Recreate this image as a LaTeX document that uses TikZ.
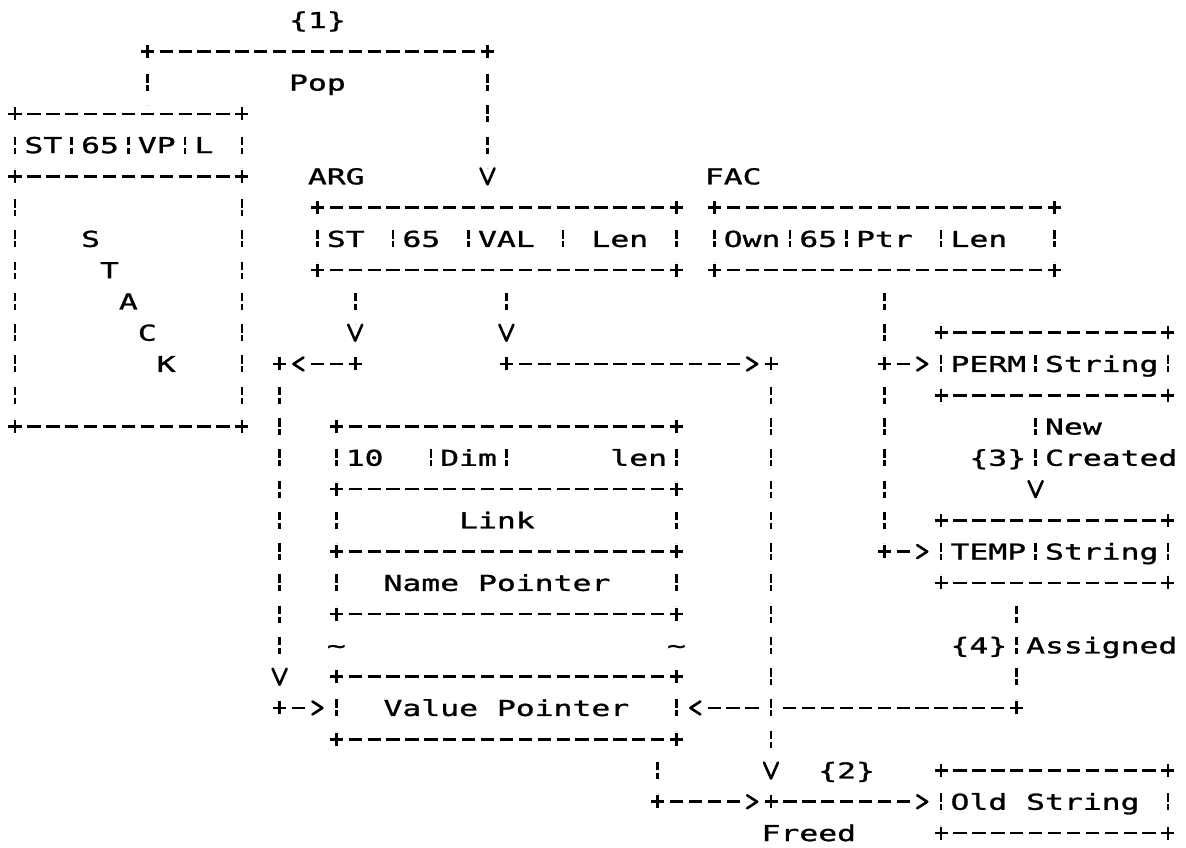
\documentclass[tikz,border=0pt]{standalone}
\usepackage{fontspec}
\newfontfamily\pf{DejaVu Sans Mono}[FakeStretch=1.4334, FakeBold=1.2]
\usetikzlibrary{fit}
\tikzset{
  ink/.style={line width=2.6pt, black},
  hrun/.style={ink, shorten <=6.75pt, shorten >=6.75pt, dash pattern=on 13.3pt off 5.6pt, dash phase=13.3pt},
  vrun/.style={ink, shorten <=8.5pt, shorten >=8.5pt, dash pattern=on 8.5pt off 2.5pt on 6pt off 14.27pt, dash phase=17pt},
  glyph/.style={ink, line cap=round, line join=round},
  txt/.style={font=\pf\fontsize{21.9pt}{22pt}\selectfont, inner sep=0pt, outer sep=0pt, anchor=base west, xshift=-9.45pt, yshift=-8pt},
  region/.style={inner sep=0pt, outer sep=0pt, draw=none},
  pics/plus/.style={code={\draw[ink] (-6.5pt,0)--(6.5pt,0) (0,-6.5pt)--(0,6.5pt);}},
  pics/vtip/.style={code={\draw[glyph] (-7pt,8pt)--(0,-8pt)--(7pt,8pt);}},
  pics/rtip/.style={code={\draw[glyph] (-5pt,6.5pt)--(5pt,0)--(-5pt,-6.5pt);}},
  pics/ltip/.style={code={\draw[glyph] (5pt,6.5pt)--(-5pt,0)--(5pt,-6.5pt);}},
  pics/bar/.style={code={\draw[ink] (0,8.5pt)--(0,0) (0,-2.5pt)--(0,-8.5pt);}},
}
\begin{document}
\begin{tikzpicture}[x=18.9pt, y=-31.27pt]
\useasboundingbox (-0.79365,-0.63959) rectangle (61.9577,26.4471);

% ---------- box regions ----------
\node[region, fit={(0,3)(12,13)}] (stack) {};
\node[region, fit={(16,6)(35,8)}] (arg) {};
\node[region, fit={(37,6)(55,8)}] (fac) {};
\node[region, fit={(49,10)(61,12)}] (perm) {};
\node[region, fit={(49,16)(61,18)}] (temp) {};
\node[region, fit={(49,24)(61,26)}] (old) {};
\node[region, fit={(17,13)(35,23)}] (desc) {};

% ---------- stack box ----------
\foreach \r in {3,5,13} \draw[hrun] (0,\r) -- (12,\r);
\foreach \c in {0,12} {\draw[vrun] (\c,3) -- (\c,5); \draw[vrun] (\c,5) -- (\c,13);}
\foreach \c in {3,6,9} \pic at (\c,4) {bar};

% ---------- ARG / FAC ----------
\foreach \a/\b in {16/35,37/55} {
  \draw[hrun] (\a,6) -- (\b,6); \draw[hrun] (\a,8) -- (\b,8);
  \draw[vrun] (\a,6) -- (\a,8); \draw[vrun] (\b,6) -- (\b,8);}
\foreach \c in {20,24,29,41,44,49} \pic at (\c,7) {bar};

% ---------- PERM / TEMP / Old ----------
\foreach \r in {10,16,24} {
  \draw[hrun] (49,\r) -- (61,\r); \draw[hrun] (49,\r+2) -- (61,\r+2);
  \draw[vrun] (49,\r) -- (49,\r+2); \draw[vrun] (61,\r) -- (61,\r+2);}
\pic at (54,11) {bar};
\pic at (54,17) {bar};

% ---------- descriptor block ----------
\foreach \r in {13,15,17,19,21,23} \draw[hrun] (17,\r) -- (35,\r);
\foreach \c in {17,35} \foreach \r in {13,15,17,21} \draw[vrun] (\c,\r) -- (\c,\r+2);
\pic at (22,14) {bar};
\pic at (26,14) {bar};

% ---------- corner / junction marks ----------
\foreach \c/\r in {7/1,25/1,0/3,12/3,0/5,12/5,16/6,35/6,37/6,55/6,16/8,35/8,37/8,55/8,
  49/10,61/10,14/11,18/11,26/11,40/11,46/11,49/12,61/12,0/13,12/13,17/13,35/13,
  17/15,35/15,49/16,61/16,17/17,35/17,46/17,49/18,61/18,17/19,35/19,17/21,35/21,
  14/22,53/22,17/23,35/23,49/24,61/24,34/25,40/25,49/26,61/26}
  \pic at (\c,\r) {plus};

% ---------- connectors ----------
% {1} Pop : stack -> ARG
\coordinate (popL) at (7,1);
\coordinate (popR) at (25,1);
\coordinate (popV) at (25,5);
\draw[vrun] (popL) -- (stack.north -| popL);
\draw[hrun] (popL) -- (popR);
\draw[vrun] (popR) -- (popV);
\pic at (popV) {vtip};

% ARG.ST -> Value Pointer
\coordinate (sA) at (18,10);
\coordinate (sB) at (18,11);
\coordinate (sC) at (15,11);
\coordinate (sD) at (14,11);
\coordinate (sE) at (14,21);
\coordinate (sF) at (14,22);
\coordinate (sG) at (16,22);
\draw[vrun] (arg.south -| sA) -- (sA);
\pic at (sA) {vtip};
\draw[hrun] (sB) -- (sC);
\pic at (sC) {ltip};
\draw[vrun] (sD) -- (sE);
\pic at (sE) {vtip};
\draw[hrun] (sF) -- (sG);
\pic at (sG) {rtip};

% ARG.VAL -> Old String
\coordinate (vA) at (26,10);
\coordinate (vB) at (26,11);
\coordinate (vC) at (39,11);
\coordinate (vD) at (40,11);
\coordinate (vE) at (40,24);
\coordinate (vF) at (40,25);
\coordinate (vG) at (48,25);
\draw[vrun] (arg.south -| vA) -- (vA);
\pic at (vA) {vtip};
\draw[hrun] (vB) -- (vC);
\pic at (vC) {rtip};
\draw[vrun] (vD) -- (vE);
\pic at (vE) {vtip};
\draw[hrun] (vF) -- (vG);
\pic at (vG) {rtip};

% Value Pointer -> Freed
\coordinate (dA) at (34,25);
\coordinate (dB) at (39,25);
\draw[vrun] (desc.south -| dA) -- (dA);
\draw[hrun] (dA) -- (dB);
\pic at (dB) {rtip};

% FAC.Ptr -> PERM, TEMP
\coordinate (fA) at (46,11);
\coordinate (fB) at (48,11);
\coordinate (fC) at (46,17);
\coordinate (fD) at (48,17);
\draw[vrun] (fac.south -| fA) -- (fA);
\draw[hrun] (fA) -- (fB);
\pic at (fB) {rtip};
\draw[vrun] (fA) -- (fC);
\draw[hrun] (fC) -- (fD);
\pic at (fD) {rtip};

% {3} PERM -> TEMP
\coordinate (nA) at (54,15);
\draw[vrun] (perm.south -| nA) -- (nA);
\pic at (nA) {vtip};

% {4} TEMP -> Value Pointer
\coordinate (aA) at (53,22);
\coordinate (aX) at (40,22);
\coordinate (aB) at (36,22);
\draw[vrun] (temp.south -| aA) -- (aA);
\draw[hrun] (aA) -- (aX);
\draw[hrun] (aX) -- (aB);
\pic at (aB) {ltip};

% ---------- texts ----------
\node[txt] (t1) at (15,0) {\{1\}};
\node[txt] (tpop) at (15,2) {Pop};
\node[txt] (stST) at (1,4) {ST};
\node[txt] (st65) at (4,4) {65};
\node[txt] (stVP) at (7,4) {VP};
\node[txt] (stL) at (10,4) {L};
\node[txt] (kS) at (4,7) {S};
\node[txt] (kT) at (5,8) {T};
\node[txt] (kA) at (6,9) {A};
\node[txt] (kC) at (7,10) {C};
\node[txt] (kK) at (8,11) {K};
\node[txt] (targ) at (16,5) {ARG};
\node[txt] (tfac) at (37,5) {FAC};
\node[txt] (aST) at (17,7) {ST};
\node[txt] (a65) at (21,7) {65};
\node[txt] (aVAL) at (25,7) {VAL};
\node[txt] (aLen) at (31,7) {Len};
\node[txt] (fOwn) at (38,7) {Own};
\node[txt] (f65) at (42,7) {65};
\node[txt] (fPtr) at (45,7) {Ptr};
\node[txt] (fLen) at (50,7) {Len};
\node[txt] (pPERM) at (50,11) {PERM};
\node[txt] (pStr) at (55,11) {String};
\node[txt] (tNew) at (55,13) {New};
\node[txt] (t3) at (51,14) {\{3\}};
\node[txt] (tCre) at (55,14) {Created};
\node[txt] (d10) at (18,14) {10};
\node[txt] (dDim) at (23,14) {Dim};
\node[txt] (dlen) at (32,14) {len};
\node[txt] (dLink) at (24,16) {Link};
\node[txt] (mTEMP) at (50,17) {TEMP};
\node[txt] (mStr) at (55,17) {String};
\node[txt] (dName) at (20,18) {Name Pointer};
\node[txt] (tl1) at (17,20) {\char`\~};
\node[txt] (tl2) at (35,20) {\char`\~};
\node[txt] (t4) at (50,20) {\{4\}};
\node[txt] (tAss) at (54,20) {Assigned};
\node[txt] (dVal) at (20,22) {Value Pointer};
\node[txt] (t2) at (43,24) {\{2\}};
\node[txt] (oStr) at (50,25) {Old String};
\node[txt] (tFreed) at (40,26) {Freed};
\end{tikzpicture}
\end{document}
